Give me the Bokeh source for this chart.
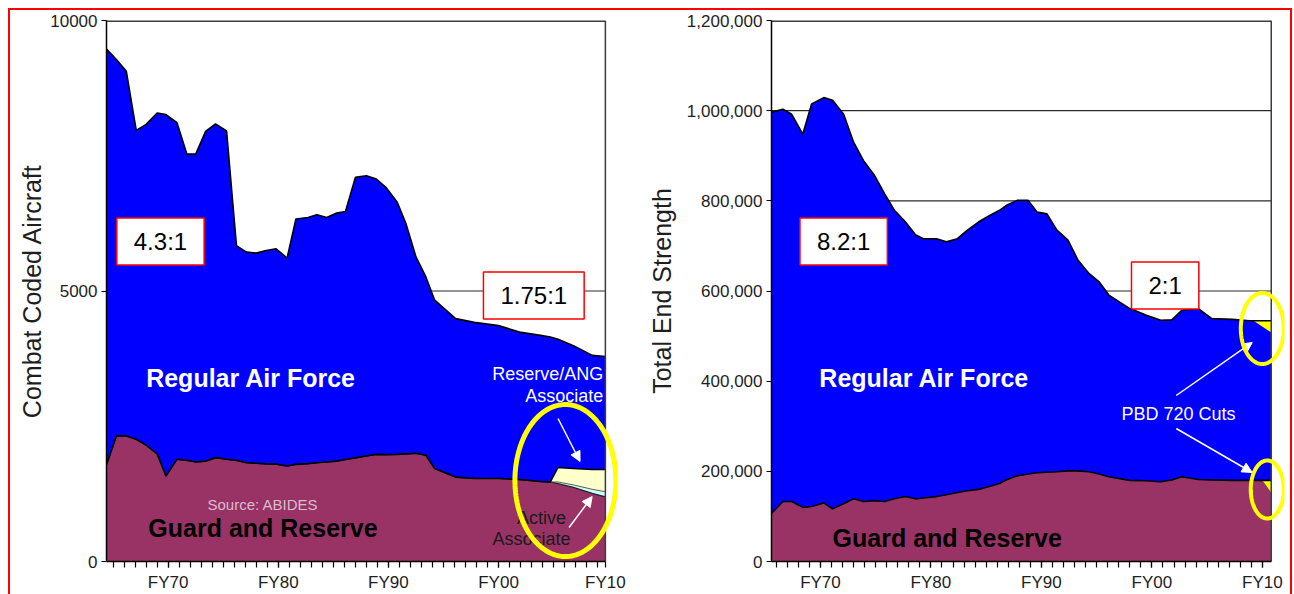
import numpy as np
from bokeh.plotting import figure
from bokeh.layouts import row
from bokeh.models import (FixedTicker, NumeralTickFormatter, CustomJSTickFormatter, Label,
                          Arrow, NormalHead, PolyAnnotation)
from bokeh.embed import file_html
from bokeh.resources import INLINE

# ---------------- Left chart: Combat Coded Aircraft ----------------
years_l = [1964.4, 1965.3, 1966.2, 1967.1, 1968.0, 1969.0, 1969.8, 1970.8, 1971.7, 1972.5,
           1973.4, 1974.3, 1975.3, 1976.2, 1977.1, 1978.0, 1978.9, 1979.8, 1980.8, 1981.6,
           1982.7, 1983.5, 1984.4, 1985.3, 1986.1, 1987.0, 1988.0, 1988.9, 1989.8, 1990.8,
           1991.6, 1992.5, 1993.4, 1994.2, 1996.1, 1997.8, 2000.0, 2001.9, 2003.8, 2004.7,
           2005.4, 2006.8, 2008.5, 2009.7]
total_l = [9470, 9280, 9060, 7970, 8080, 8290, 8260, 8110, 7530, 7530,
           7950, 8090, 7960, 5840, 5720, 5700, 5750, 5780, 5610, 6330,
           6360, 6410, 6360, 6440, 6470, 7100, 7130, 7070, 6910, 6640,
           6240, 5630, 5260, 4830, 4490, 4420, 4360, 4240, 4180, 4150,
           4110, 3990, 3810, 3790]
guard_l = [1790, 2320, 2320, 2260, 2150, 1990, 1580, 1890, 1870, 1840,
           1855, 1920, 1890, 1870, 1825, 1815, 1805, 1800, 1765, 1795,
           1810, 1825, 1840, 1855, 1885, 1915, 1950, 1980, 1975, 1980,
           1990, 2000, 1965, 1720, 1560, 1535, 1535, 1515, 1480, 1470,
           1440, 1370, 1260, 1195]
active_assoc_l = [0] * 40 + [30, 45, 75, 95]
reserve_assoc_l = [0] * 40 + [268, 305, 365, 410]

# ---------------- Right chart: Total End Strength ----------------
years_r = [1965.5, 1966.6, 1967.4, 1968.4, 1969.2, 1970.3, 1971.1, 1972.1, 1973.0, 1973.9,
           1974.9, 1975.8, 1976.7, 1977.7, 1978.6, 1979.3, 1980.5, 1981.4, 1982.4, 1983.3,
           1984.3, 1985.2, 1986.2, 1986.9, 1987.8, 1988.8, 1989.6, 1990.5, 1991.4, 1992.4,
           1993.3, 1994.3, 1995.2, 1996.1, 1998.0, 1999.5, 2000.8, 2001.8, 2002.7, 2004.2,
           2005.4, 2007.3, 2008.8, 2009.8, 2010.8]
total_r = [996000, 1003000, 992000, 948000, 1015000, 1029000, 1023000, 992000, 930000, 889000,
           856000, 816000, 779000, 753000, 725000, 716000, 716000, 709000, 716000, 735000,
           753000, 766000, 779000, 791000, 801000, 801000, 775000, 771000, 735000, 713000,
           669000, 639000, 621000, 591000, 561000, 546000, 535000, 536000, 557000, 561000,
           539000, 537000, 534000, 534000, 534000]
guard_r = [105000, 133000, 133000, 120000, 122000, 130000, 117000, 128000, 139000, 133000,
           135000, 133000, 139000, 144000, 139000, 141000, 144000, 148000, 153000, 157000,
           160000, 166000, 173000, 182000, 190000, 194000, 197000, 198000, 199000, 201000,
           201000, 199000, 194000, 188000, 180000, 179000, 177000, 181000, 188000, 182000,
           181000, 180000, 180000, 180000, 180000]
# PBD 720 cuts: [start year, end year], [value before, value after]
pbd_top_years = [2009.2, 2010.8]
pbd_top_vals = [534000, 508000]
pbd_bot_years = [2010.0, 2010.8]
pbd_bot_vals = [180000, 153000]

fy_ticks_l = [1970, 1980, 1990, 2000, 2009.7]
fy_ticks_r = [1970, 1980, 1990, 2000, 2010]
y_ticks_l = [0, 5000, 10000]
y_ticks_r = [0, 200000, 400000, 600000, 800000, 1000000, 1200000]

BLUE = "#0000FF"
MAROON = "#993366"
CREAM = "#FFFFCC"
LIGHTBLUE = "#CCFFFF"
YELLOW = "#FFFF00"
FONT = "Liberation Sans"
TXT = "#1e1e1e"
FRAME = "#3c3c3c"

fy_fmt = "const y = Math.round(tick) % 100; return 'FY' + (y < 10 ? '0' + y : '' + y);"


def style(p, x0, x1, ymax, xticks, xminor, yticks, grid_vals, label):
    p.background_fill_color = "white"
    p.border_fill_color = "white"
    p.outline_line_color = None
    p.xgrid.visible = False
    p.ygrid.visible = False
    # horizontal gridlines (under the areas), limited to the axis extent
    p.segment(x0=[x0] * len(grid_vals), y0=grid_vals, x1=[x1] * len(grid_vals), y1=grid_vals,
              line_color="#2a2a2a", line_width=1.2)
    xa = p.xaxis[0]
    xa.bounds = (x0, x1)
    xa.ticker = FixedTicker(ticks=xticks, minor_ticks=xminor)
    xa.formatter = CustomJSTickFormatter(code=fy_fmt)
    xa.major_tick_in = 0
    xa.major_tick_out = 6
    xa.minor_tick_in = 0
    xa.minor_tick_out = 6
    xa.minor_tick_line_color = "black"
    xa.minor_tick_line_width = 1.2
    xa.major_tick_line_color = "black"
    xa.major_tick_line_width = 1.2
    xa.axis_line_color = "black"
    xa.axis_line_width = 1.5
    xa.major_label_text_font = FONT
    xa.major_label_text_font_size = "17px"
    xa.major_label_text_color = TXT
    xa.major_label_standoff = 5
    ya = p.yaxis[0]
    ya.ticker = FixedTicker(ticks=yticks)
    ya.major_tick_in = 0
    ya.major_tick_out = 5
    ya.minor_tick_line_color = None
    ya.axis_line_color = "black"
    ya.axis_line_width = 1.5
    ya.major_label_text_font = FONT
    ya.major_label_text_font_size = "17px"
    ya.major_label_text_color = TXT
    ya.major_label_standoff = 4
    ya.axis_label = label
    ya.axis_label_text_font = FONT
    ya.axis_label_text_font_size = "25px"
    ya.axis_label_text_font_style = "normal"
    ya.axis_label_text_color = TXT


def frame_lines(p, x0, x1, ymax):
    p.segment(x0=[x0], y0=[ymax], x1=[x1], y1=[ymax], line_color=FRAME, line_width=3)
    p.segment(x0=[x1], y0=[0], x1=[x1], y1=[ymax], line_color=FRAME, line_width=1.5)


def box_label(p, x, y, text):
    p.add_layout(Label(x=x, y=y, text=text, text_font=FONT, text_font_size="24px",
                       text_color="black", text_align="center", text_baseline="middle",
                       background_fill_color="white", border_line_color="#ff0000",
                       border_line_width=1.5, padding=(17, 10)))


def txt(p, x, y, text, size, color, bold=False, align="left"):
    p.add_layout(Label(x=x, y=y, text=text, text_font=FONT, text_font_size=size,
                       text_color=color, text_align=align, text_baseline="middle",
                       text_font_style="bold" if bold else "normal"))


def ellipse(p, cx, cy, w, h, lw):
    t = np.linspace(0, 2 * np.pi, 140)
    p.add_layout(PolyAnnotation(xs=list(cx + w / 2 * np.cos(t)), ys=list(cy + h / 2 * np.sin(t)),
                                fill_alpha=0, fill_color=None, line_color=YELLOW,
                                line_alpha=1.0, line_width=lw))


def arrow(p, x0, y0, x1, y1):
    p.add_layout(Arrow(end=NormalHead(size=10, fill_color="white", line_color="white"),
                       x_start=x0, y_start=y0, x_end=x1, y_end=y1,
                       line_color="white", line_width=1.5))


# ---------------- Left figure ----------------
XL0, XL1, XLF = 1964.4, 2009.7, 2010.8   # axis start, axis end, frame end (room for ellipse)
p1 = figure(width=630, height=584, x_range=(XL0, XLF), y_range=(0, 10000),
            output_backend="svg", toolbar_location=None,
            min_border_left=96, min_border_right=23, min_border_top=10, min_border_bottom=33)
style(p1, XL0, XL1, 10000, fy_ticks_l, list(range(1965, 2010)), y_ticks_l, [5000],
      "Combat Coded Aircraft")
p1.yaxis[0].axis_label_standoff = 1

g = np.array(guard_l, dtype=float)
aa = g + np.array(active_assoc_l)
ra = aa + np.array(reserve_assoc_l)
t = np.array(total_l, dtype=float)
p1.varea(x=years_l, y1=0, y2=g, fill_color=MAROON)
p1.varea(x=years_l, y1=g, y2=aa, fill_color=LIGHTBLUE)
p1.varea(x=years_l, y1=aa, y2=ra, fill_color=CREAM)
p1.varea(x=years_l, y1=ra, y2=t, fill_color=BLUE)
p1.line(years_l, t, line_color="black", line_width=1.6)
p1.line(years_l, g, line_color="#222222", line_width=1.2)
p1.line(years_l, aa, line_color="#333333", line_width=0.8)
p1.line(years_l, ra, line_color="black", line_width=1.6)
frame_lines(p1, XL0, XL1, 10000)

box_label(p1, 1969.3, 5915, "4.3:1")
box_label(p1, 2003.2, 4917, "1.75:1")
txt(p1, 1968.0, 3400, "Regular Air Force", "25px", "white", bold=True)
txt(p1, 1968.2, 610, "Guard and Reserve", "25px", "black", bold=True)
txt(p1, 1978.6, 1054, "Source: ABIDES", "15px", "#d8bccf", align="center")
txt(p1, 2009.5, 3475, "Reserve/ANG", "18px", "white", align="right")
txt(p1, 2009.5, 3050, "Associate", "18px", "white", align="right")
txt(p1, 2003.9, 813, "Active", "18px", "#1a1a1a", align="center")
txt(p1, 2003.0, 425, "Associate", "18px", "#1a1a1a", align="center")
arrow(p1, 2005.4, 2643, 2007.4, 1848)
arrow(p1, 2006.4, 628, 2008.5, 1201)
ellipse(p1, 2006.07, 1497, 9.17, 2810, 5)

# ---------------- Right figure ----------------
XR0, XR1, XRF = 1965.57, 2010.8, 2012.0
p2 = figure(width=650, height=584, x_range=(XR0, XRF), y_range=(0, 1200000),
            output_backend="svg", toolbar_location=None,
            min_border_left=131, min_border_right=6, min_border_top=10, min_border_bottom=33)
style(p2, XR0, XR1, 1200000, fy_ticks_r, list(range(1966, 2011)), y_ticks_r,
      [200000, 400000, 600000, 800000, 1000000], "Total End Strength")
p2.yaxis[0].formatter = NumeralTickFormatter(format="0,0")
p2.yaxis[0].axis_label_standoff = 8

p2.varea(x=years_r, y1=0, y2=guard_r, fill_color=MAROON)
p2.varea(x=years_r, y1=guard_r, y2=total_r, fill_color=BLUE)
p2.patch([pbd_top_years[0], pbd_top_years[1], pbd_top_years[1]],
         [pbd_top_vals[0], pbd_top_vals[0], pbd_top_vals[1]],
         fill_color=YELLOW, line_color=None)
p2.patch([pbd_bot_years[0], pbd_bot_years[1], pbd_bot_years[1]],
         [pbd_bot_vals[0], pbd_bot_vals[0], pbd_bot_vals[1]],
         fill_color=YELLOW, line_color=None)
p2.line(years_r, total_r, line_color="black", line_width=1.6)
p2.line(years_r, guard_r, line_color="black", line_width=1.6)
frame_lines(p2, XR0, XR1, 1200000)

box_label(p2, 1972.1, 709800, "8.2:1")
box_label(p2, 2001.2, 612200, "2:1")
txt(p2, 1969.9, 408100, "Regular Air Force", "25px", "white", bold=True)
txt(p2, 1971.1, 53200, "Guard and Reserve", "25px", "black", bold=True)
txt(p2, 2002.4, 326100, "PBD 720 Cuts", "18px", "white", align="center")
arrow(p2, 2002.2, 368200, 2009.08, 485800)
arrow(p2, 2002.2, 295000, 2009.08, 197400)
ellipse(p2, 2009.99, 516800, 3.89, 157500, 4)
ellipse(p2, 2010.44, 159700, 2.99, 128700, 4)

layout = row(p1, p2, margin=(8, 0, 0, 8),
             styles={"border-top": "2px solid #ff0000", "border-left": "2px solid #ff0000",
                     "border-right": "2px solid #ff0000", "background": "white"})

open("out.html", "w").write(file_html(layout, INLINE))
